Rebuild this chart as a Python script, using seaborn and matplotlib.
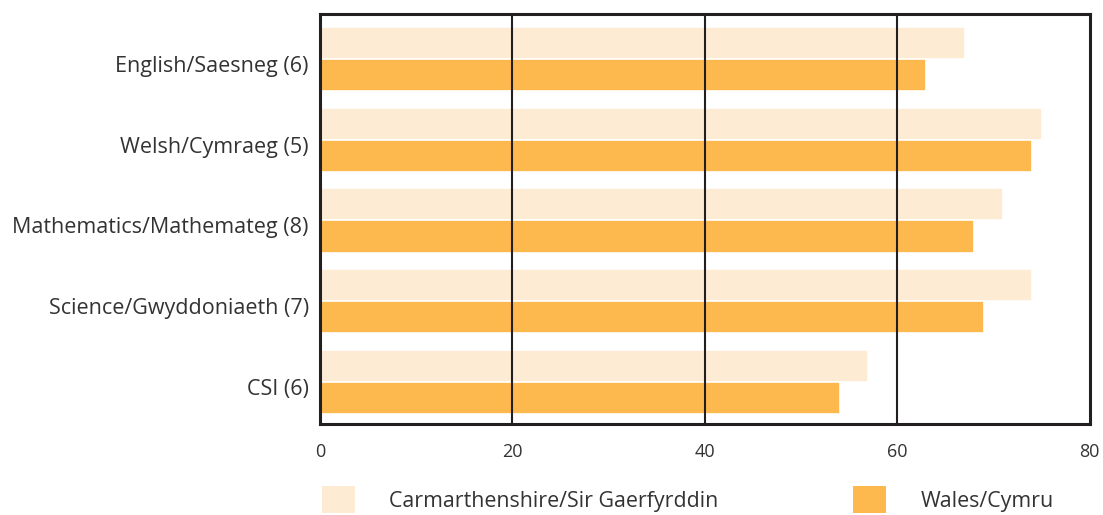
import matplotlib
matplotlib.use("Agg")
import matplotlib.pyplot as plt
import matplotlib.transforms as mtransforms
import seaborn as sns
import pandas as pd

# subject labels, top to bottom
subjects = ["English/Saesneg (6)", "Welsh/Cymraeg (5)", "Mathematics/Mathemateg (8)",
            "Science/Gwyddoniaeth (7)", "CSI (6)"]
carmarthenshire = [67, 75, 71, 74, 57]
wales = [63, 74, 68, 69, 54]
series_names = ["Carmarthenshire/Sir Gaerfyrddin", "Wales/Cymru"]
x_ticks = [0, 20, 40, 60, 80]

LIGHT = "#FDEBD4"
ORANGE = "#FDB94D"
DARK = "#231F20"

df = pd.DataFrame({
    "subject": subjects * 2,
    "value": carmarthenshire + wales,
    "area": [series_names[0]] * len(subjects) + [series_names[1]] * len(subjects),
})

sns.set_style("white")
plt.rcParams["font.family"] = ["Open Sans", "DejaVu Sans"]

fig = plt.figure(figsize=(11.03, 5.15), dpi=100)
ax = fig.add_axes([0.290, 0.177, 0.698, 0.796])

sns.barplot(data=df, y="subject", x="value", hue="area", orient="h",
            palette=[LIGHT, ORANGE], saturation=1, width=0.8, edgecolor="white",
            linewidth=1.2, legend=False, ax=ax)

# black vertical gridlines over the bars
for v in x_ticks[1:-1]:
    ax.axvline(v, color=DARK, linewidth=1.5, zorder=5)

ax.set_xlim(0, 80)
ax.set_ylim(4.52, -0.56)
ax.set_xticks(x_ticks)
ax.set_xlabel("")
ax.set_ylabel("")

for s in ax.spines.values():
    s.set_visible(True)
    s.set_color(DARK)
    s.set_linewidth(2.2)
    s.set_zorder(6)

ax.tick_params(axis="y", direction="in", length=14, width=1.8, color=DARK,
               labelsize=15.5, labelcolor="#333333", pad=8)
ax.tick_params(axis="x", length=0, labelsize=13, labelcolor="#333333", pad=14)

# labels sit a little below their tick in the original
shift = mtransforms.ScaledTranslation(0, -5 / 100, fig.dpi_scale_trans)
for t in ax.get_yticklabels():
    t.set_transform(t.get_transform() + shift)

handles = [plt.Rectangle((0, 0), 1, 1, facecolor=c, edgecolor="none") for c in (LIGHT, ORANGE)]
fig.legend(handles, series_names, loc="center left", bbox_to_anchor=(0.292, 0.03),
           ncol=2, frameon=False, fontsize=15.4, handlelength=1.54, handleheight=1.54,
           handletextpad=1.6, columnspacing=6.3, borderpad=0, borderaxespad=0,
           labelcolor="#333333")

fig.savefig("out.png", dpi=100)
